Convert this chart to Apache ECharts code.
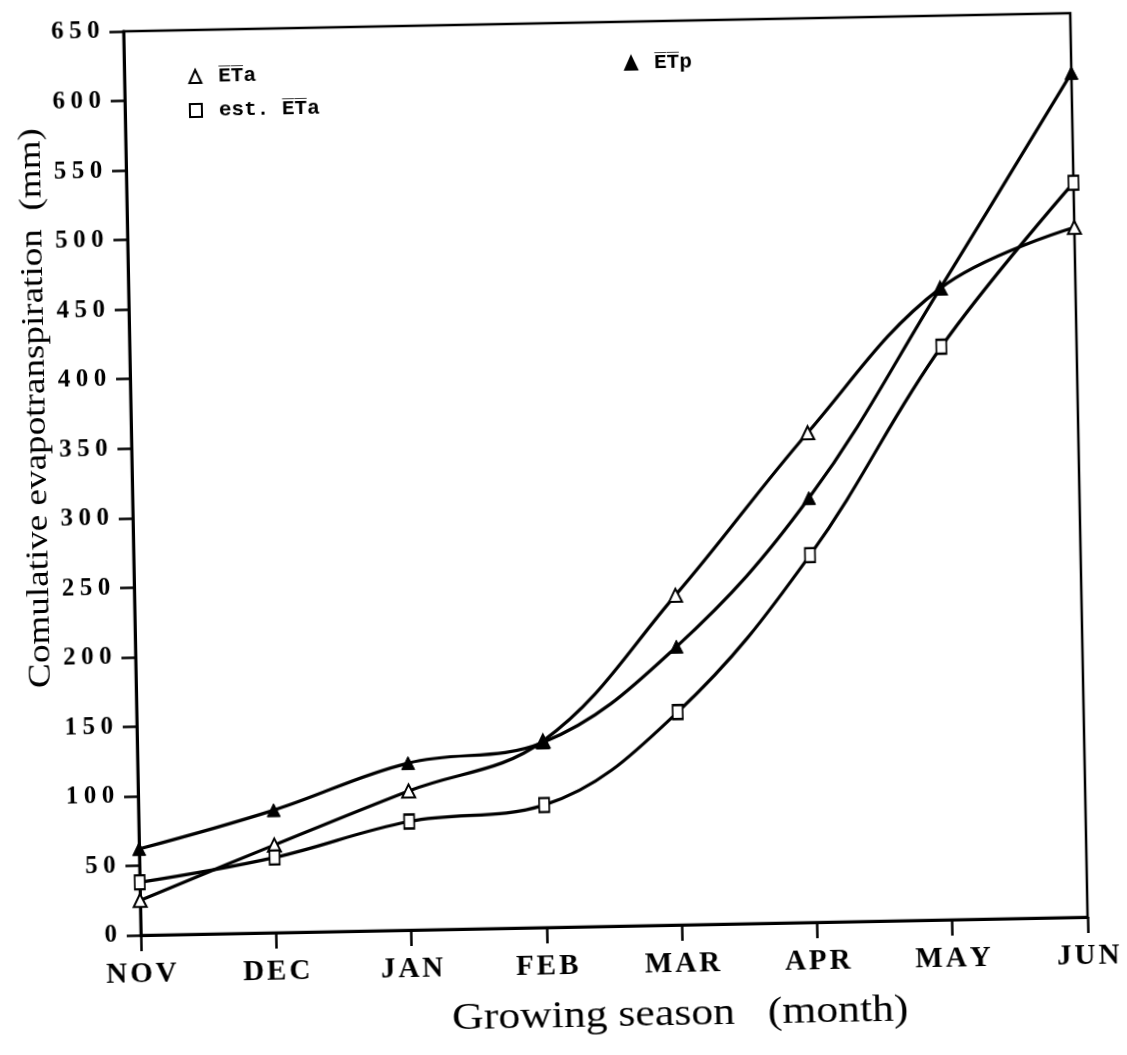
<!DOCTYPE html>
<html>
<head>
<meta charset="utf-8">
<script src="https://cdn.jsdelivr.net/npm/echarts@6/dist/echarts.min.js"></script>
<style>
  html, body { margin: 0; padding: 0; background: #fff; overflow: hidden; }
  #chart { width: 1127px; height: 1055px; transform: rotate(-1.1deg); transform-origin: 50% 50%; }
</style>
</head>
<body>
<div id="chart"></div>
<script>
// Growing season months (x categories)
const months = ['NOV', 'DEC', 'JAN', 'FEB', 'MAR', 'APR', 'MAY', 'JUN'];

// Cumulative evapotranspiration, mm
const etaMeasured  = [25, 63, 100, 134, 237, 352, 454, 496];   // mean ETa (open triangles)
const etpValues    = [62, 88, 120, 133, 200, 305, 454, 607];   // mean ETp (filled triangles)
const etaEstimated = [38, 54, 78, 88, 153, 264, 412, 528];     // estimated ETa (open squares)

// Value axis range and step
const yMin = 0, yMax = 650, yStep = 50;

// Series names (overlined E and T)
const NAME_ETA = 'E\u0305T\u0305a';
const NAME_EST = 'est. E\u0305T\u0305a';
const NAME_ETP = 'E\u0305T\u0305p';

const serif = '"Liberation Serif", "Times New Roman", serif';
const mono = '"Liberation Mono", "DejaVu Sans Mono", monospace';

// Spread the characters of a tick label into individual rich-text tokens
const spaced = s => String(s).split('').map(c => '{c|' + c + '}').join('');

const chart = echarts.init(document.getElementById('chart'), null, { renderer: 'canvas' });

const lineBase = {
  type: 'line',
  smooth: 0.38,
  lineStyle: { color: '#000', width: 3.2 },
  emphasis: { disabled: true },
  animation: false
};

const legendText = {
  fontFamily: mono, fontWeight: 'bold', fontSize: 21, color: '#000',
  padding: [0, 0, 0, 12]
};

chart.setOption({
  backgroundColor: '#fff',
  animation: false,
  grid: {
    left: 133, right: 47, top: 23, bottom: 128,
    show: true, borderColor: '#000', borderWidth: 2.5, backgroundColor: 'transparent'
  },
  legend: [
    {
      orient: 'vertical', left: 192, top: 54, itemWidth: 12, itemHeight: 13, itemGap: 13,
      selectedMode: false, textStyle: legendText,
      data: [{ name: NAME_ETA, icon: 'triangle' }, { name: NAME_EST, icon: 'rect' }]
    },
    {
      orient: 'horizontal', left: 628, top: 49, itemWidth: 12, itemHeight: 13,
      selectedMode: false, textStyle: legendText,
      data: [{ name: NAME_ETP, icon: 'triangle' }]
    }
  ],
  xAxis: {
    type: 'category',
    data: months,
    boundaryGap: false,
    axisLine: { show: true, lineStyle: { color: '#000', width: 3 } },
    axisTick: { show: true, inside: false, length: 16, lineStyle: { color: '#000', width: 2.5 } },
    axisLabel: {
      margin: 25,
      formatter: spaced,
      rich: { c: { padding: [0, 1.5, 0, 1.5], color: '#000', fontFamily: serif, fontWeight: 'bold', fontSize: 29 } }
    },
    splitLine: { show: false }
  },
  yAxis: {
    type: 'value',
    min: yMin, max: yMax, interval: yStep,
    axisLine: { show: true, lineStyle: { color: '#000', width: 3 } },
    axisTick: { show: true, inside: false, length: 14, lineStyle: { color: '#000', width: 2.5 } },
    splitLine: { show: false },
    axisLabel: {
      margin: 21,
      formatter: spaced,
      rich: { c: { width: 18, align: 'center', fontFamily: serif, fontWeight: 'bold', fontSize: 25, color: '#000' } }
    }
  },
  series: [
    Object.assign({}, lineBase, {
      name: NAME_ETA, data: etaMeasured, symbol: 'triangle', symbolSize: 13, z: 3,
      itemStyle: { color: '#fff', borderColor: '#000', borderWidth: 2 }
    }),
    Object.assign({}, lineBase, {
      name: NAME_ETP, data: etpValues, symbol: 'triangle', symbolSize: 13, z: 3,
      itemStyle: { color: '#000', borderColor: '#000', borderWidth: 1 }
    }),
    Object.assign({}, lineBase, {
      name: NAME_EST, data: etaEstimated, symbol: 'rect', symbolSize: [10, 14], z: 3,
      itemStyle: { color: '#fff', borderColor: '#000', borderWidth: 2 }
    })
  ],
  graphic: [
    {
      type: 'text', x: 39, y: 398, rotation: Math.PI / 2, scaleX: 1.16,
      style: {
        text: 'Comulative evapotranspiration  (mm)', fill: '#000',
        fontFamily: serif, fontSize: 32, align: 'center', verticalAlign: 'middle'
      }
    },
    {
      type: 'text', x: 671, y: 1017, scaleX: 1.15,
      style: {
        text: 'Growing season   (month)', fill: '#000',
        fontFamily: serif, fontSize: 38, align: 'center', verticalAlign: 'middle'
      }
    }
  ]
});
</script>
</body>
</html>
